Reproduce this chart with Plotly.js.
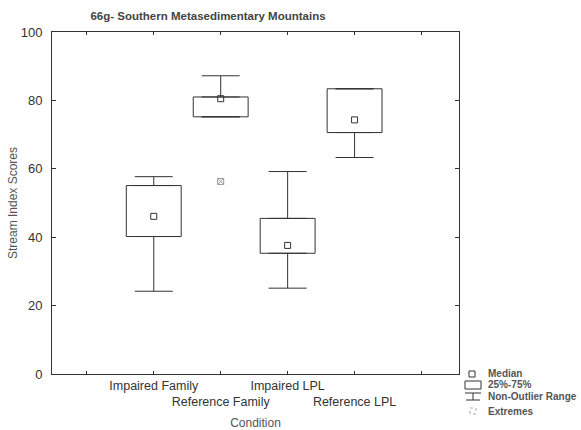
<!DOCTYPE html>
<html>
<head>
<meta charset="utf-8">
<script src="https://cdn.plot.ly/plotly-3.0.1.min.js"></script>
<style>html,body{margin:0;padding:0;background:#fff;}#chart{width:581px;height:430px;}</style>
</head>
<body>
<div id="chart"></div>
<script>
// Data
const categories = ['Impaired Family', 'Reference Family', 'Impaired LPL', 'Reference LPL'];
const positions = [1, 2, 3, 4];
const medians = [46.1, 80.5, 37.6, 74.3];
const q1 = [40.2, 75.2, 35.3, 70.6];
const q3 = [55.1, 81.0, 45.5, 83.4];
const lowerWhisker = [24.2, 75.2, 25.1, 63.3];
const upperWhisker = [57.7, 87.2, 59.2, 83.4];
const extremeX = [2];
const extremeY = [56.3];
const yTicks = [0, 20, 40, 60, 80, 100];

const lineColor = '#333333';
const font = 'Liberation Sans, Arial, sans-serif';

const boxHeights = q3.map((v, i) => v - q1[i]);
const upperLen = upperWhisker.map((v, i) => v - q3[i]);
const lowerLen = q1.map((v, i) => v - lowerWhisker[i]);
const zeros = positions.map(() => 0);

const traces = [
  {
    // 25%-75% boxes
    type: 'bar',
    x: positions,
    base: q1,
    y: boxHeights,
    width: 0.82,
    marker: {color: 'rgba(0,0,0,0)', line: {color: lineColor, width: 1}},
    hoverinfo: 'skip',
    showlegend: false
  },
  {
    // upper whiskers
    type: 'scatter',
    mode: 'markers',
    x: positions,
    y: q3,
    marker: {size: 0.1, color: 'rgba(0,0,0,0)'},
    error_y: {type: 'data', symmetric: false, array: upperLen, arrayminus: zeros, color: lineColor, thickness: 1, width: 19},
    hoverinfo: 'skip',
    showlegend: false
  },
  {
    // lower whiskers
    type: 'scatter',
    mode: 'markers',
    x: positions,
    y: q1,
    marker: {size: 0.1, color: 'rgba(0,0,0,0)'},
    error_y: {type: 'data', symmetric: false, array: zeros, arrayminus: lowerLen, color: lineColor, thickness: 1, width: 19},
    hoverinfo: 'skip',
    showlegend: false
  },
  {
    // medians
    type: 'scatter',
    mode: 'markers',
    x: positions,
    y: medians,
    marker: {symbol: 'square-open', size: 6, color: lineColor, line: {width: 1, color: lineColor}},
    showlegend: false,
    hoverinfo: 'skip'
  },
  {
    // extremes
    type: 'scatter',
    mode: 'markers',
    x: extremeX,
    y: extremeY,
    marker: {symbol: 'square-x-open', size: 6, color: '#999', line: {width: 1, color: '#999'}},
    showlegend: false,
    hoverinfo: 'skip'
  }
];

// Legend placement (paper coords derived from pixels)
const L = 52, R = 459, T = 32, B = 374;
const px = v => (v - L) / (R - L);
const py = v => (B - v) / (B - T);

const shapes = [
  {type: 'rect', xref: 'paper', yref: 'paper', x0: px(469), x1: px(475), y0: py(371), y1: py(377), line: {color: lineColor, width: 1}},
  {type: 'rect', xref: 'paper', yref: 'paper', x0: px(465), x1: px(481), y0: py(381), y1: py(389), line: {color: lineColor, width: 1}},
  {type: 'line', xref: 'paper', yref: 'paper', x0: px(465), x1: px(481), y0: py(393), y1: py(393), line: {color: lineColor, width: 1}},
  {type: 'line', xref: 'paper', yref: 'paper', x0: px(473), x1: px(473), y0: py(393), y1: py(400), line: {color: lineColor, width: 1}},
  {type: 'line', xref: 'paper', yref: 'paper', x0: px(466), x1: px(480), y0: py(400), y1: py(400), line: {color: lineColor, width: 1}},
  {type: 'rect', xref: 'paper', yref: 'paper', x0: px(470), x1: px(476), y0: py(408), y1: py(414), line: {color: '#aaa', width: 1, dash: 'dot'}}
];

const legendLabels = ['Median', '25%-75%', 'Non-Outlier Range', 'Extremes'];
const legendY = [373, 384, 396, 411];
const annotations = legendLabels.map((t, i) => ({
  xref: 'paper', yref: 'paper', x: px(486), y: py(legendY[i]),
  xanchor: 'left', yanchor: 'middle', showarrow: false,
  text: '<b>' + t + '</b>', font: {family: font, size: 10, color: '#555'}
}));

const tickText = ['', categories[0], '<br>' + categories[1], categories[2], '<br>' + categories[3], ''];

const layout = {
  width: 581,
  height: 430,
  margin: {l: L, r: 581 - R, t: T, b: 430 - B},
  paper_bgcolor: '#fff',
  plot_bgcolor: '#fff',
  font: {family: font, color: '#333'},
  bargap: 0,
  title: {
    text: '<b>66g- Southern Metasedimentary Mountains</b>',
    font: {family: font, size: 11.5, color: '#444'},
    x: 208 / 581, xanchor: 'center', xref: 'container',
    y: 1 - 16 / 430, yanchor: 'middle', yref: 'container'
  },
  xaxis: {
    range: [-0.52, 5.56],
    tickmode: 'array',
    tickvals: [0, 1, 2, 3, 4, 5],
    ticktext: tickText,
    tickangle: 0,
    ticks: 'inside',
    ticklen: 3,
    tickcolor: lineColor,
    showgrid: false,
    zeroline: false,
    showline: true,
    linecolor: lineColor,
    linewidth: 1,
    mirror: 'ticks',
    tickfont: {family: font, size: 12.5, color: '#333'},
    title: {text: 'Condition', font: {family: font, size: 12, color: '#555'}, standoff: 10}
  },
  yaxis: {
    range: [0, 100],
    tickmode: 'array',
    tickvals: yTicks,
    ticktext: yTicks.map(String),
    ticks: 'inside',
    ticklen: 4,
    tickcolor: lineColor,
    ticklabelstandoff: 6,
    showgrid: false,
    zeroline: false,
    showline: true,
    linecolor: lineColor,
    linewidth: 1,
    mirror: 'ticks',
    tickfont: {family: font, size: 13, color: '#333'},
    title: {text: 'Stream Index Scores', font: {family: font, size: 12, color: '#555'}, standoff: 0}
  },
  shapes: shapes,
  annotations: annotations,
  showlegend: false
};

Plotly.newPlot('chart', traces, layout, {staticPlot: true, displayModeBar: false});
</script>
</body>
</html>
